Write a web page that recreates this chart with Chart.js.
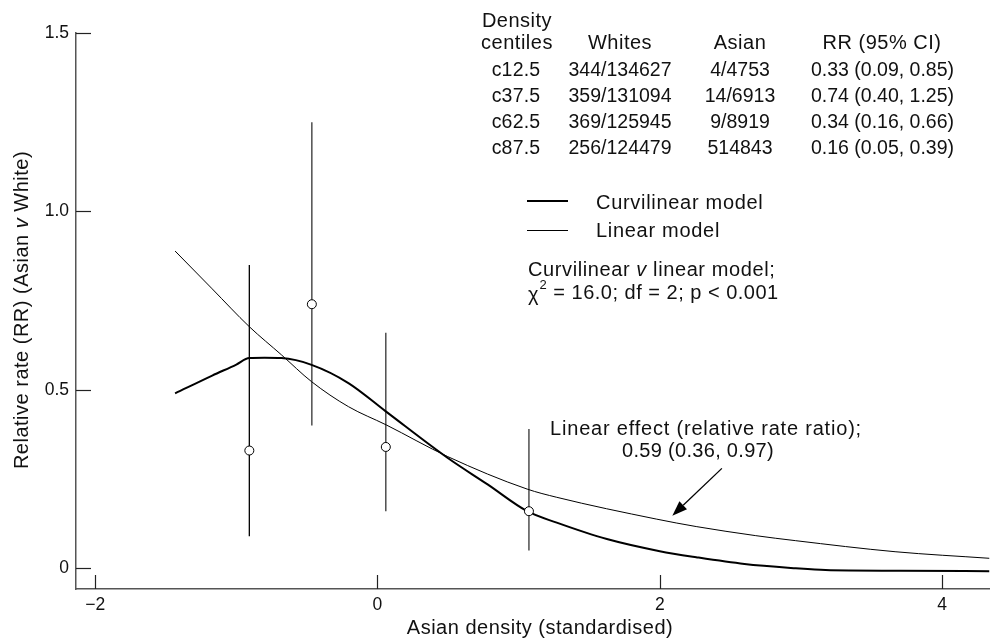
<!DOCTYPE html>
<html><head><meta charset="utf-8">
<script src="https://cdn.jsdelivr.net/npm/chart.js@4.4.0/dist/chart.umd.min.js"></script>
<style>html,body{margin:0;padding:0;background:#fff;}#wrap{width:995px;height:641px;}</style>
</head><body><div id="wrap"><canvas id="c" width="995" height="641"></canvas></div>
<script>
// ---- data ----
const curvX = [-1.434, -1.171, -1.0, -0.908, -0.80, -0.68, -0.467, -0.206, 0.061, 0.498, 0.78, 1.06, 1.27, 1.625, 2.0, 2.258, 2.6, 2.963, 3.174, 3.7, 4.336];
const curvY = [0.490, 0.540, 0.571, 0.589, 0.590, 0.589, 0.570, 0.519, 0.439, 0.309, 0.235, 0.160, 0.128, 0.082, 0.048, 0.031, 0.012, 0.000, -0.005, -0.007, -0.008];
const linX = [-1.434, -1.171, -0.908, -0.68, -0.467, -0.206, 0.061, 0.498, 1.06, 1.27, 1.975, 2.258, 2.68, 2.963, 3.667, 4.336];
const linY = [0.889, 0.783, 0.677, 0.598, 0.523, 0.453, 0.402, 0.313, 0.222, 0.199, 0.138, 0.117, 0.0915, 0.0774, 0.0465, 0.028];
const centileX = [-0.908, -0.465, 0.059, 1.073];
const rrValues = [0.33, 0.74, 0.34, 0.16];
const ciLow = [0.09, 0.40, 0.16, 0.05];
const ciHigh = [0.85, 1.25, 0.66, 0.39];
const xTickValues = [-2, 0, 2, 4];
const xTickLabels = ['\u22122', '0', '2', '4'];
const yTickValues = [0, 0.5, 1.0, 1.5];
const yTickLabels = ['0', '0.5', '1.0', '1.5'];
const tableCentiles = ['c12.5', 'c37.5', 'c62.5', 'c87.5'];
const tableWhites = ['344/134627', '359/131094', '369/125945', '256/124479'];
const tableAsian = ['4/4753', '14/6913', '9/8919', '514843'];
const tableRR = ['0.33 (0.09, 0.85)', '0.74 (0.40, 1.25)', '0.34 (0.16, 0.66)', '0.16 (0.05, 0.39)'];
const arrowFrom = [2.44, 0.280];
const arrowTo = [2.089, 0.1475];

const FONT = '"Liberation Sans", Arial, Helvetica, sans-serif';
Chart.defaults.font.family = FONT;
Chart.defaults.font.size = 17.5;
Chart.defaults.color = '#111';

const datasets = [];
datasets.push({
  label: 'Centile RR', data: centileX.map((x, i) => ({x, y: rrValues[i]})),
  showLine: false, pointRadius: 4.5, pointHoverRadius: 4.5, pointBackgroundColor: '#fff',
  pointBorderColor: '#000', pointBorderWidth: 1, order: 0
});
datasets.push({
  label: 'Curvilinear model', data: curvX.map((x, i) => ({x, y: curvY[i]})),
  showLine: true, pointRadius: 0, borderColor: '#000', borderWidth: 2, cubicInterpolationMode: 'monotone', order: 1
});
datasets.push({
  label: 'Linear model', data: linX.map((x, i) => ({x, y: linY[i]})),
  showLine: true, pointRadius: 0, borderColor: '#000', borderWidth: 1, cubicInterpolationMode: 'monotone', order: 1
});
centileX.forEach((x, i) => {
  datasets.push({
    label: 'CI ' + i, data: [{x, y: ciLow[i]}, {x, y: ciHigh[i]}],
    showLine: true, pointRadius: 0, borderColor: i === 0 ? '#000' : '#333', borderWidth: 1.3, order: 2
  });
});

function txt(ctx, s, x, y, opts) {
  opts = opts || {};
  ctx.font = (opts.italic ? 'italic ' : '') + (opts.size || 20) + 'px ' + FONT;
  ctx.letterSpacing = (opts.ls !== undefined ? opts.ls : 0.5) + 'px';
  ctx.textAlign = opts.align || 'left';
  ctx.textBaseline = 'middle';
  ctx.fillStyle = '#111';
  ctx.fillText(s, x, y);
}
function width(ctx, s, size, italic, ls) {
  ctx.font = (italic ? 'italic ' : '') + size + 'px ' + FONT;
  ctx.letterSpacing = ls + 'px';
  return ctx.measureText(s).width;
}
function segs(ctx, parts, x, y, size, ls, center) {
  let total = 0;
  parts.forEach(p => total += width(ctx, p[0], size, p[1], ls));
  let cx = center ? x - total / 2 : x;
  parts.forEach(p => {
    txt(ctx, p[0], cx, y, {size, italic: p[1], ls});
    cx += width(ctx, p[0], size, p[1], ls);
  });
}

const decor = {
  id: 'decor',
  afterDraw(chart) {
    const ctx = chart.ctx;
    const xs = chart.scales.x, ys = chart.scales.y;
    const a = chart.chartArea;
    ctx.save();
    // inward tick marks
    ctx.strokeStyle = '#222'; ctx.lineWidth = 1.2;
    xTickValues.forEach(v => {
      const px = Math.round(xs.getPixelForValue(v)) + 0.5;
      ctx.beginPath(); ctx.moveTo(px, a.bottom); ctx.lineTo(px, a.bottom - 14); ctx.stroke();
    });
    yTickValues.forEach(v => {
      const py = Math.round(ys.getPixelForValue(v)) + 0.5;
      ctx.beginPath(); ctx.moveTo(a.left, py); ctx.lineTo(a.left + 15, py); ctx.stroke();
    });
    // axis titles
    txt(ctx, 'Asian density (standardised)', 540, 628, {align: 'center', size: 20, ls: 0.5});
    ctx.save();
    ctx.translate(22, 310); ctx.rotate(-Math.PI / 2);
    segs(ctx, [['Relative rate (RR) (Asian ', false], ['v', true], [' White)', false]], 0, 0, 20, 0.5, true);
    ctx.restore();
    // table
    txt(ctx, 'Density', 517, 21, {align: 'center'});
    txt(ctx, 'centiles', 517, 43, {align: 'center'});
    txt(ctx, 'Whites', 620, 43, {align: 'center'});
    txt(ctx, 'Asian', 740, 43, {align: 'center'});
    txt(ctx, 'RR (95% CI)', 882, 43, {align: 'center'});
    const rowY = [70.6, 96.6, 122.6, 148.2];
    tableCentiles.forEach((s, i) => {
      txt(ctx, s, 516, rowY[i], {align: 'center', size: 19.5, ls: 0.2});
      txt(ctx, tableWhites[i], 620, rowY[i], {align: 'center', size: 19.5, ls: 0});
      txt(ctx, tableAsian[i], 740, rowY[i], {align: 'center', size: 19.5, ls: 0});
      txt(ctx, tableRR[i], 882.5, rowY[i], {align: 'center', size: 19.5, ls: 0});
    });
    // legend
    ctx.strokeStyle = '#000';
    ctx.lineWidth = 2; ctx.beginPath(); ctx.moveTo(527, 201); ctx.lineTo(568, 201); ctx.stroke();
    ctx.lineWidth = 1; ctx.beginPath(); ctx.moveTo(527, 230.5); ctx.lineTo(568, 230.5); ctx.stroke();
    txt(ctx, 'Curvilinear model', 596, 203.5, {ls: 0.7});
    txt(ctx, 'Linear model', 596, 231.5, {ls: 0.7});
    segs(ctx, [['Curvilinear ', false], ['v', true], [' linear model;', false]], 528, 270.5, 20, 0.6, false);
    // chi-square line
    let cx = 528;
    txt(ctx, '\u03c7', cx, 295, {size: 20, ls: 0.5}); cx += width(ctx, '\u03c7', 20, false, 0.5);
    txt(ctx, '2', cx + 0.5, 285, {size: 13, ls: 0}); cx += width(ctx, '2', 13, false, 0) + 1;
    txt(ctx, ' = 16.0; df = 2; p < 0.001', cx, 293, {size: 20, ls: 0.5});
    // linear effect annotation
    txt(ctx, 'Linear effect (relative rate ratio);', 706, 429, {align: 'center', ls: 0.8});
    txt(ctx, '0.59 (0.36, 0.97)', 698, 451.5, {align: 'center', ls: 0.3});
    // arrow
    const x1 = xs.getPixelForValue(arrowFrom[0]), y1 = ys.getPixelForValue(arrowFrom[1]);
    const x2 = xs.getPixelForValue(arrowTo[0]), y2 = ys.getPixelForValue(arrowTo[1]);
    const ang = Math.atan2(y2 - y1, x2 - x1);
    const hl = 15, hw = 5.5;
    const bx = x2 - hl * Math.cos(ang), by = y2 - hl * Math.sin(ang);
    ctx.lineWidth = 1.3; ctx.strokeStyle = '#000';
    ctx.beginPath(); ctx.moveTo(x1, y1); ctx.lineTo(bx, by); ctx.stroke();
    ctx.fillStyle = '#000';
    ctx.beginPath(); ctx.moveTo(x2, y2);
    ctx.lineTo(bx + hw * Math.sin(ang), by - hw * Math.cos(ang));
    ctx.lineTo(bx - hw * Math.sin(ang), by + hw * Math.cos(ang));
    ctx.closePath(); ctx.fill();
    ctx.restore();
  }
};

new Chart(document.getElementById('c'), {
  type: 'scatter',
  data: {datasets},
  options: {
    responsive: false, animation: false, devicePixelRatio: 1,
    layout: {padding: {top: 33, right: 0, left: 0, bottom: 0}},
    plugins: {legend: {display: false}, tooltip: {enabled: false}},
    scales: {
      x: {
        type: 'linear', min: -2.136, max: 4.336,
        grid: {display: false, drawTicks: false},
        border: {display: true, color: '#555', width: 1.5},
        afterBuildTicks: s => { s.ticks = xTickValues.map(v => ({value: v})); },
        afterFit: s => { s.height = 52; },
        ticks: {callback: (v, i) => xTickLabels[i], font: {family: FONT, size: 17.5}, color: '#111', padding: 6, maxRotation: 0, autoSkip: false}
      },
      y: {
        type: 'linear', min: -0.058, max: 1.5,
        grid: {display: false, drawTicks: false},
        border: {display: true, color: '#555', width: 1.5},
        afterBuildTicks: s => { s.ticks = yTickValues.map(v => ({value: v})); },
        afterFit: s => { s.width = 76; },
        ticks: {callback: (v, i) => yTickLabels[i], font: {family: FONT, size: 17.5}, color: '#111', padding: 7, autoSkip: false}
      }
    }
  },
  plugins: [decor]
});
</script>
</body></html>
